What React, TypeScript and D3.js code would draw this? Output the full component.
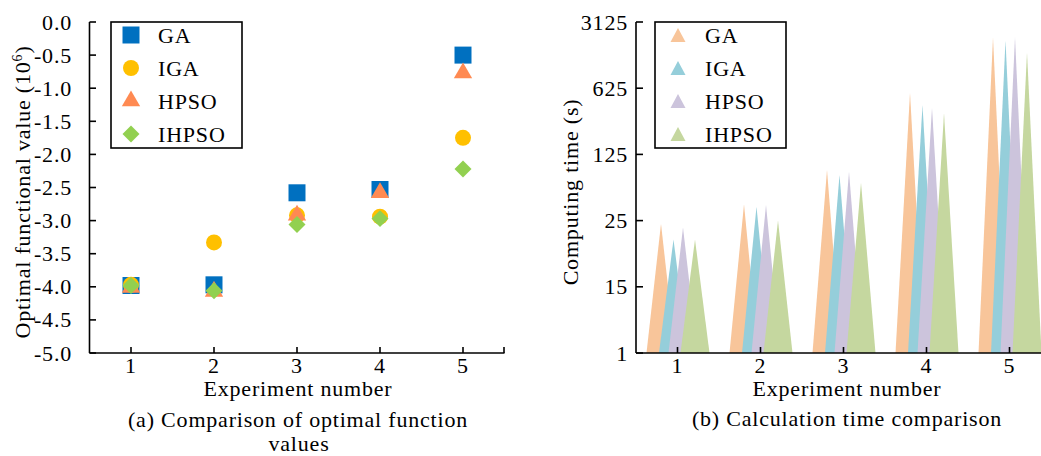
import React from 'react';
import * as d3 from 'd3';

const experiments = [1, 2, 3, 4, 5];
const seriesNames = ['GA', 'IGA', 'HPSO', 'IHPSO'];

// (a) optimal functional value (10^6)
const gaOptimal = [-3.98, -3.97, -2.58, -2.53, -0.5];
const igaOptimal = [-3.97, -3.33, -2.92, -2.94, -1.75];
const hpsoOptimal = [-4.01, -4.07, -2.92, -2.58, -0.77];
const ihpsoOptimal = [-3.98, -4.06, -3.06, -2.97, -2.22];
const leftTicks = [0, -0.5, -1, -1.5, -2, -2.5, -3, -3.5, -4, -4.5, -5];

// (b) computing time (s)
const gaTime = [23.1, 37.1, 85.3, 558, 2163];
const igaTime = [15.8, 35, 75.9, 414, 1994];
const hpsoTime = [21.1, 36.6, 82, 392, 2170];
const ihpsoTime = [15.8, 25, 62.9, 340, 1485];
const rightTickValues = [1, 5, 25, 125, 625, 3125];
const rightTickLabels = ['1', '15', '25', '125', '625', '3125'];

const optimalSeries = [gaOptimal, igaOptimal, hpsoOptimal, ihpsoOptimal];
const timeSeries = [gaTime, igaTime, hpsoTime, ihpsoTime];

const markerColors = ['#0070C0', '#FFC000', '#FF8A52', '#92D050'];
const pastelColors = ['#F8C59A', '#95CEDA', '#CCC4DC', '#C5D79F'];
const triOffsets = [-16.5, -4, 5.5, 17.5];
const triHalf = 14.5;

const FONT = '"Liberation Serif", "Times New Roman", serif';
const FS = 22;
const LS = 0.8;

function Marker({ kind, x, y, color }: { kind: number; x: number; y: number; color: string }) {
  if (kind === 0) {
    const p = d3.symbol().type(d3.symbolSquare).size(289)();
    return <path d={p || ''} transform={`translate(${x},${y})`} fill={color} />;
  }
  if (kind === 1) {
    return <circle cx={x} cy={y} r={8} fill={color} />;
  }
  if (kind === 2) {
    const p = d3.symbol().type(d3.symbolTriangle).size(145)();
    return <path d={p || ''} transform={`translate(${x},${y})`} fill={color} />;
  }
  const p = d3.symbol().type(d3.symbolSquare).size(144)();
  return <path d={p || ''} transform={`translate(${x},${y}) rotate(45)`} fill={color} />;
}

export default function App() {
  // Left chart scales
  const lx = d3.scaleLinear().domain([0.5, 5.5]).range([89.5, 504.5]);
  const ly = d3.scaleLinear().domain([-5, 0]).range([353, 22]);
  // Right chart scales
  const rx = d3.scaleLinear().domain([0.5, 5.5]).range([636, 1051]);
  const ry = d3.scaleLog().base(5).domain([1, 3125]).range([353, 22]);

  const legendRows = [35, 68, 101, 134];
  const textStyle = { fontFamily: FONT, fontSize: FS, letterSpacing: LS, fill: '#000' } as any;

  return (
    <svg
      width={1041}
      height={456}
      style={{ position: 'absolute', left: 0, top: 0, background: '#fff' }}
    >
      <rect x={0} y={0} width={1041} height={456} fill="#fff" />

      {/* ---------- Left chart ---------- */}
      <g>
        {optimalSeries.map((vals, si) => (
          <g key={si}>
            {vals.map((v, i) => (
              <Marker key={i} kind={si} x={lx(experiments[i])} y={ly(v)} color={markerColors[si]} />
            ))}
          </g>
        ))}
        {/* axes */}
        <line x1={89.5} x2={89.5} y1={22} y2={353} stroke="#000" strokeWidth={1.6} />
        <line x1={89.5} x2={504.5} y1={353} y2={353} stroke="#000" strokeWidth={1.6} />
        {leftTicks.map((t) => (
          <g key={t}>
            <line x1={89.5} x2={96} y1={ly(t)} y2={ly(t)} stroke="#000" strokeWidth={1.6} />
            <text x={72} y={ly(t) + 7.5} textAnchor="end" style={textStyle}>
              {t === 0 ? '0.0' : t.toFixed(1)}
            </text>
          </g>
        ))}
        {experiments.map((e) => (
          <g key={e}>
            <line x1={lx(e)} x2={lx(e)} y1={353} y2={347} stroke="#000" strokeWidth={1.6} />
            <text x={lx(e)} y={373} textAnchor="middle" style={textStyle}>
              {e}
            </text>
          </g>
        ))}
        <line x1={504} x2={504} y1={353} y2={347} stroke="#000" strokeWidth={1.6} />
        <text x={298} y={396} textAnchor="middle" style={textStyle}>
          Experiment number
        </text>
        <text
          transform={`translate(30,192) rotate(-90)`}
          textAnchor="middle"
          style={textStyle}
        >
          Optimal functional value (10
          <tspan dy={-8} fontSize={14}>6</tspan>
          <tspan dy={8}>)</tspan>
        </text>
        <text x={298} y={427} textAnchor="middle" style={textStyle}>
          (a) Comparison of optimal function
        </text>
        <text x={299} y={451} textAnchor="middle" style={textStyle}>
          values
        </text>
        {/* legend */}
        <rect x={111} y={22} width={131} height={126} fill="#fff" stroke="#000" strokeWidth={1.6} />
        {seriesNames.map((n, i) => (
          <g key={n}>
            <Marker kind={i} x={131} y={legendRows[i]} color={markerColors[i]} />
            <text x={158} y={legendRows[i] + 8} style={textStyle}>
              {n}
            </text>
          </g>
        ))}
      </g>

      {/* ---------- Right chart ---------- */}
      <g>
        {timeSeries.map((vals, si) => (
          <g key={si}>
            {vals.map((v, i) => {
              const cx = rx(experiments[i]) + triOffsets[si];
              const base = ry(1);
              const top = ry(v);
              const d = `M${cx - triHalf},${base}L${cx},${top}L${cx + triHalf},${base}Z`;
              return <path key={i} d={d} fill={pastelColors[si]} />;
            })}
          </g>
        ))}
        <line x1={636} x2={636} y1={22} y2={353} stroke="#000" strokeWidth={1.6} />
        <line x1={636} x2={1051} y1={353} y2={353} stroke="#000" strokeWidth={1.6} />
        {rightTickValues.map((t, i) => (
          <g key={t}>
            <line x1={636} x2={643} y1={ry(t)} y2={ry(t)} stroke="#000" strokeWidth={1.6} />
            <text x={628} y={ry(t) + 7.5} textAnchor="end" style={textStyle}>
              {rightTickLabels[i]}
            </text>
          </g>
        ))}
        {experiments.map((e) => (
          <g key={e}>
            <line x1={rx(e)} x2={rx(e)} y1={353} y2={347} stroke="#000" strokeWidth={1.6} />
            <text x={rx(e)} y={373} textAnchor="middle" style={textStyle}>
              {e}
            </text>
          </g>
        ))}
        <text x={847} y={396} textAnchor="middle" style={textStyle}>
          Experiment number
        </text>
        <text transform={`translate(578,192) rotate(-90)`} textAnchor="middle" style={textStyle}>
          Computing time (s)
        </text>
        <text x={847} y={426} textAnchor="middle" style={textStyle}>
          (b) Calculation time comparison
        </text>
        {/* legend */}
        <rect x={655} y={22} width={131} height={126} fill="#fff" stroke="#000" strokeWidth={1.6} />
        {seriesNames.map((n, i) => {
          const cx = 678;
          const cy = legendRows[i];
          const d = `M${cx - 7.5},${cy + 7}L${cx},${cy - 7}L${cx + 7.5},${cy + 7}Z`;
          return (
            <g key={n}>
              <path d={d} fill={pastelColors[i]} />
              <text x={705} y={cy + 8} style={textStyle}>
                {n}
              </text>
            </g>
          );
        })}
      </g>
    </svg>
  );
}
